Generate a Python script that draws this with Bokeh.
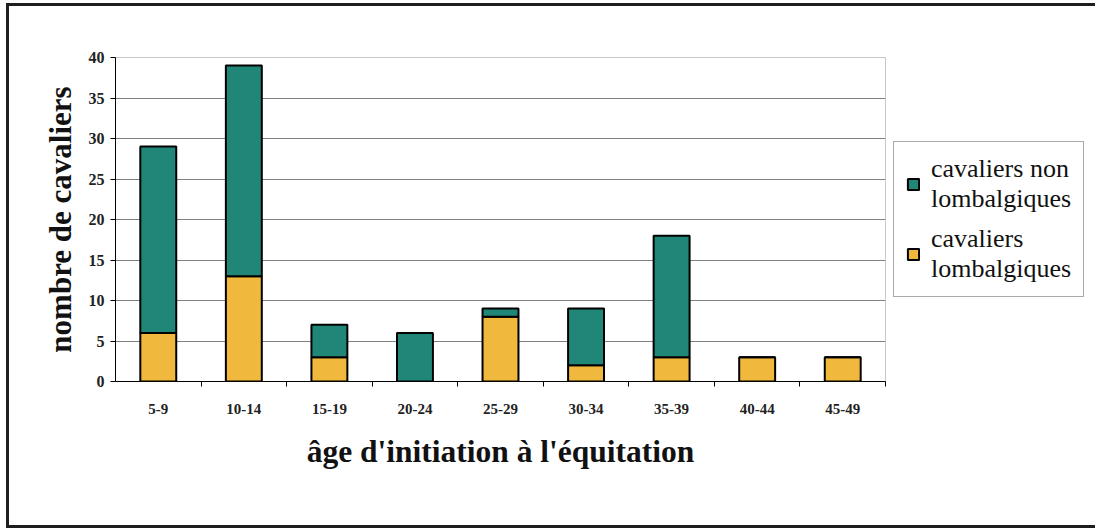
from bokeh.plotting import figure
from bokeh.models import (ColumnDataSource, Range1d, FixedTicker, Legend, LegendItem)
from bokeh.embed import file_html
from bokeh.resources import INLINE

# ---- data ----
categories = ["5-9", "10-14", "15-19", "20-24", "25-29", "30-34", "35-39", "40-44", "45-49"]
lombalgiques = [6, 13, 3, 0, 8, 2, 3, 3, 3]
non_lombalgiques = [23, 26, 4, 6, 1, 7, 15, 0, 0]
y_ticks = [0, 5, 10, 15, 20, 25, 30, 35, 40]
series_labels = ["cavaliers non\nlombalgiques", "cavaliers\nlombalgiques"]

TEAL = "#208677"
YELLOW = "#f0b83c"
FONT = "Liberation Serif"

positions = list(range(1, len(categories) + 1))
source = ColumnDataSource(dict(x=positions, lomb=lombalgiques, non=non_lombalgiques))

p = figure(frame_width=770, frame_height=324, output_backend="svg", toolbar_location=None,
           x_range=Range1d(0.5, len(categories) + 0.5), y_range=Range1d(0, 40),
           min_border_left=106, min_border_right=200, min_border_top=51, min_border_bottom=144)
p.styles = {"border-top": "3px solid #1e1e1e", "border-left": "3px solid #1e1e1e",
            "border-bottom": "3px solid #1e1e1e", "margin-left": "6px", "margin-top": "3px"}

renderers = p.vbar_stack(["lomb", "non"], x="x", width=0.42, source=source,
                         color=[YELLOW, TEAL], line_color="black", line_width=2)

# axes
p.xaxis.ticker = FixedTicker(ticks=positions, minor_ticks=[x + 0.5 for x in positions])
p.xaxis.major_label_overrides = {x: c for x, c in zip(positions, categories)}
p.xaxis.major_tick_out = 0
p.xaxis.major_tick_in = 0
p.xaxis.minor_tick_out = 5
p.xaxis.minor_tick_in = 0
p.xaxis.minor_tick_line_color = "black"
p.xaxis.axis_line_color = "black"
p.xaxis.major_label_text_font = FONT
p.xaxis.major_label_text_font_style = "bold"
p.xaxis.major_label_text_font_size = "15px"
p.xaxis.major_label_text_color = "#222222"
p.xaxis.major_label_standoff = 17
p.xaxis.axis_label = "âge d'initiation à l'équitation"
p.xaxis.axis_label_text_font = FONT
p.xaxis.axis_label_text_font_style = "bold"
p.xaxis.axis_label_text_font_size = "31.5px"
p.xaxis.axis_label_text_color = "#111111"
p.xaxis.axis_label_standoff = 17

p.yaxis.ticker = FixedTicker(ticks=y_ticks)
p.yaxis.major_tick_out = 5
p.yaxis.major_tick_in = 0
p.yaxis.minor_tick_line_color = None
p.yaxis.axis_line_color = "black"
p.yaxis.major_tick_line_color = "black"
p.yaxis.major_label_text_font = FONT
p.yaxis.major_label_text_font_style = "bold"
p.yaxis.major_label_text_font_size = "16px"
p.yaxis.major_label_text_color = "#222222"
p.yaxis.major_label_standoff = 6
p.yaxis.axis_label = "nombre de cavaliers"
p.yaxis.axis_label_text_font = FONT
p.yaxis.axis_label_text_font_style = "bold"
p.yaxis.axis_label_text_font_size = "31px"
p.yaxis.axis_label_text_color = "#111111"
p.yaxis.axis_label_standoff = 8

p.xgrid.grid_line_color = None
p.ygrid.grid_line_color = "#808080"
p.ygrid.grid_line_width = 1
p.outline_line_color = "#909090"
p.outline_line_dash = "1 1"

# legend
legend = Legend(items=[LegendItem(label=series_labels[0], renderers=[renderers[1]]),
                       LegendItem(label=series_labels[1], renderers=[renderers[0]])],
                location="center_left", margin=8, padding=12, spacing=10,
                glyph_width=14, glyph_height=14, label_standoff=11,
                label_text_font=FONT, label_text_font_size="26px",
                label_text_line_height=1.15, label_text_color="#111111",
                border_line_color="#555555", border_line_width=1)
p.add_layout(legend, "right")

open("out.html", "w").write(file_html(p, INLINE))
